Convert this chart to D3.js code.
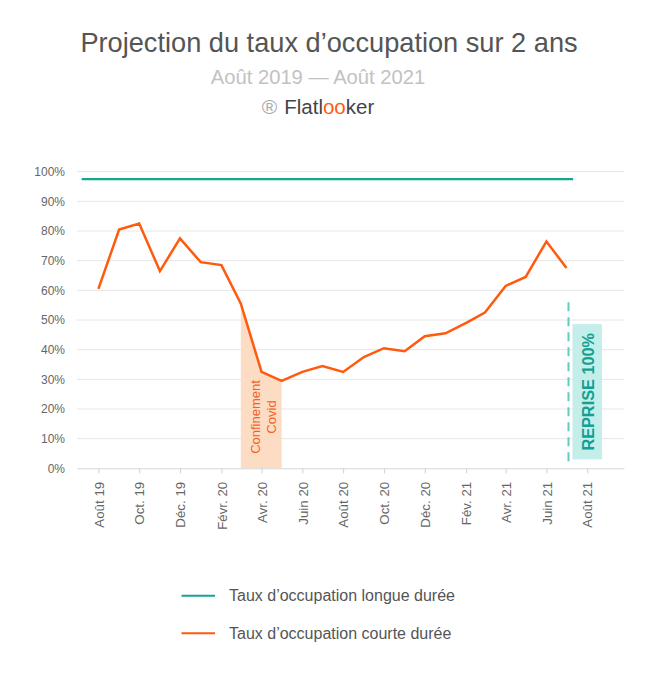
<!DOCTYPE html>
<html><head><meta charset="utf-8">
<script src="https://cdn.jsdelivr.net/npm/d3@7"></script>
<style>
html,body{margin:0;padding:0;background:#fff;}
svg{display:block;font-family:"Liberation Sans",Arial,Helvetica,sans-serif;}
</style></head>
<body>
<svg id="chart" width="654" height="686"></svg>
<script>
const months = ["2019-08-01","2019-09-01","2019-10-01","2019-11-01","2019-12-01","2020-01-01","2020-02-01","2020-03-01","2020-04-01","2020-05-01","2020-06-01","2020-07-01","2020-08-01","2020-09-01","2020-10-01","2020-11-01","2020-12-01","2021-01-01","2021-02-01","2021-03-01","2021-04-01","2021-05-01","2021-06-01","2021-07-01"];
const shortTerm = [60.5,80.5,82.5,66.5,77.5,69.5,68.5,55.5,32.5,29.5,32.5,34.5,32.5,37.5,40.5,39.5,44.5,45.5,49,52.5,61.5,64.5,76.5,67.5];
const longDates = ["2019-07-07","2021-07-11"];
const longTerm = [97.5,97.5];
const tickDates = ["2019-08-01","2019-10-01","2019-12-01","2020-02-01","2020-04-01","2020-06-01","2020-08-01","2020-10-01","2020-12-01","2021-02-01","2021-04-01","2021-06-01","2021-08-01"];
const tickLabels = ["Août 19","Oct. 19","Déc. 19","Févr. 20","Avr. 20","Juin 20","Août 20","Oct. 20","Déc. 20","Fév. 21","Avr. 21","Juin 21","Août 21"];
const yTicks = [0,10,20,30,40,50,60,70,80,90,100];
const covidRange = ["2020-03-01","2020-05-01"];
const repriseDate = "2021-07-01";
const seriesNames = ["Taux d’occupation longue durée","Taux d’occupation courte durée"];

const TEAL = "#17a394", ORANGE = "#ff5a0d";
const parse = d3.timeParse("%Y-%m-%d");
const svg = d3.select("#chart");

const x = d3.scaleTime().domain([parse("2019-06-30"), parse("2021-09-25")]).range([77, 624]);
const y = d3.scaleLinear().domain([0, 100]).range([468.3, 171.7]);

// Titles
svg.append("text").attr("x", 329).attr("y", 52).attr("text-anchor","middle")
  .attr("font-size", 27.2).attr("fill", "#555").text("Projection du taux d’occupation sur 2 ans");
svg.append("text").attr("x", 318).attr("y", 84).attr("text-anchor","middle")
  .attr("font-size", 20.2).attr("fill", "#c2c2c2").text("Août 2019 — Août 2021");
const brand = svg.append("text").attr("x", 318).attr("y", 114).attr("text-anchor","middle").attr("font-size", 20.5).attr("fill","#444");
brand.append("tspan").attr("fill","#aaa").attr("font-size",21).text("®");
brand.append("tspan").attr("dx", 7).text("Flatl");
brand.append("tspan").attr("fill", ORANGE).text("oo");
brand.append("tspan").text("ker");

// Grid
svg.append("g").selectAll("line").data(yTicks.filter(d => d > 0)).join("line")
  .attr("x1", 77).attr("x2", 624).attr("y1", d => y(d)).attr("y2", d => y(d))
  .attr("stroke", "#e6e6e6").attr("stroke-width", 1);

// Y labels
svg.append("g").selectAll("text").data(yTicks).join("text")
  .attr("x", 65).attr("y", d => y(d)).attr("dy", "0.35em").attr("text-anchor", "end")
  .attr("font-size", 12).attr("fill", "#666").text(d => d + "%");

// Covid shaded area
const covidData = months.map((m, i) => ({d: parse(m), v: shortTerm[i]}))
  .filter(p => p.d >= parse(covidRange[0]) && p.d <= parse(covidRange[1]));
svg.append("path").datum(covidData)
  .attr("d", d3.area().x(p => x(p.d)).y0(y(0)).y1(p => y(p.v)))
  .attr("fill", "#fcdcc2");
const cx = x(parse("2020-04-01"));
const covidText = svg.append("text").attr("transform", `translate(${cx},417) rotate(-90)`)
  .attr("text-anchor", "middle").attr("font-size", 13).attr("fill", "#f0622a");
covidText.append("tspan").attr("x", 0).attr("dy", "-0.15em").text("Confinement");
covidText.append("tspan").attr("x", 0).attr("dy", "1.25em").text("Covid");

// X axis
const xAxis = d3.axisBottom(x).tickValues(tickDates.map(parse)).tickFormat((d, i) => tickLabels[i]).tickSize(5).tickSizeOuter(0);
const gx = svg.append("g").attr("transform", `translate(0,${y(0)})`).call(xAxis);
gx.select(".domain").attr("stroke", "#d6d6d6");
gx.selectAll(".tick line").attr("stroke", "#d0d0d0");
gx.selectAll(".tick text").attr("font-size", 13.3).attr("fill", "#666")
  .attr("font-family", "Liberation Sans, Arial, sans-serif")
  .attr("transform", "rotate(-90)").attr("text-anchor", "end")
  .attr("x", -13.5).attr("y", 0).attr("dy", "0.35em");

// Long-term line
svg.append("path").datum(longDates.map((d, i) => ({d: parse(d), v: longTerm[i]})))
  .attr("d", d3.line().x(p => x(p.d)).y(p => y(p.v)))
  .attr("fill", "none").attr("stroke", TEAL).attr("stroke-width", 2.2);

// Short-term line
svg.append("path").datum(months.map((m, i) => ({d: parse(m), v: shortTerm[i]})))
  .attr("d", d3.line().x(p => x(p.d)).y(p => y(p.v)))
  .attr("fill", "none").attr("stroke", ORANGE).attr("stroke-width", 2.5).attr("stroke-linejoin", "miter");

// Reprise marker
const rx = x(parse(repriseDate)) + 2;
svg.append("line").attr("x1", rx).attr("x2", rx).attr("y1", y(56)).attr("y2", y(1.8))
  .attr("stroke", "#62cbc2").attr("stroke-width", 2).attr("stroke-dasharray", "9,6");
svg.append("rect").attr("x", rx + 4).attr("y", y(48.6)).attr("width", 29.5).attr("height", y(3) - y(48.6))
  .attr("fill", "#c4eeea");
svg.append("text").attr("transform", `translate(${rx + 19.5},${(y(48.6) + y(3)) / 2}) rotate(-90)`)
  .attr("text-anchor", "middle").attr("dy", "0.36em").attr("font-size", 16.3).attr("font-weight", "bold")
  .attr("fill", "#12a093").text("REPRISE 100%");

// Legend
const legend = svg.append("g");
const legColors = [TEAL, ORANGE];
const legY = [595.7, 633.3];
seriesNames.forEach((name, i) => {
  legend.append("line").attr("x1", 181.5).attr("x2", 215).attr("y1", legY[i]).attr("y2", legY[i])
    .attr("stroke", legColors[i]).attr("stroke-width", 2);
  legend.append("text").attr("x", 229).attr("y", legY[i]).attr("dy", "0.35em")
    .attr("font-size", 16).attr("fill", "#555").text(name);
});
</script>
</body></html>
